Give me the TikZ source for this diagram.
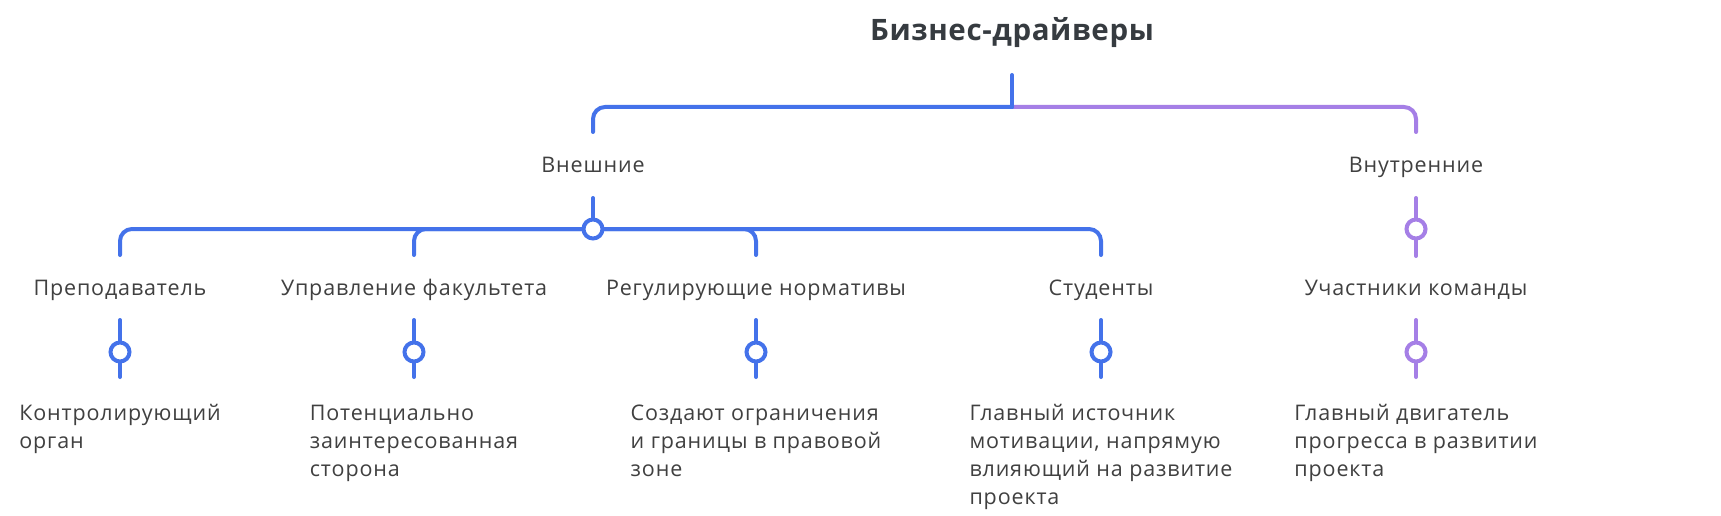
\documentclass[tikz,border=0pt]{standalone}
\usepackage{fontspec}
\setmainfont{Open Sans}[LetterSpace=4]
\newfontfamily\titlefont{Open Sans}[LetterSpace=2]
\definecolor{bl}{HTML}{4472EA}
\definecolor{pu}{HTML}{A57FE6}
\definecolor{tx}{HTML}{404040}
\definecolor{tt}{HTML}{363B40}
\begin{document}
\begin{tikzpicture}[x=1pt,y=-1pt,
  conn/.style={line width=4pt, line cap=round, rounded corners=12pt},
  dot/.style={circle, draw, line width=4pt, fill=white, minimum size=19pt, inner sep=0pt},
  lbl/.style={font=\fontsize{21.5}{28}\selectfont, text=tx, inner sep=0pt, anchor=base},
  leaf/.style={font=\fontsize{21.5}{28}\selectfont, text=tx, inner sep=0pt, anchor=north, align=left},
  ttl/.style={font=\titlefont\fontsize{29.5}{34}\selectfont\bfseries, text=tt, inner sep=0pt, anchor=base}]
\useasboundingbox[fill=white] (0,0) rectangle (1721,516);

% title
\node[ttl] (title) at (1012,41) {Бизнес-драйверы};
\coordinate (rootTop) at (1012,75);
\coordinate (rootJ) at (1012,107);
\coordinate (extIn) at (593,132);
\coordinate (intIn) at (1416,132);
\draw[conn,pu] (rootJ) -| (intIn);
\draw[conn,bl] (rootJ) -| (extIn);
\draw[conn,bl] (rootTop) -- (rootJ);

% level 1
\node[lbl] (ext) at (593,172) {Внешние};
\node[lbl] (int) at (1416,172) {Внутренние};

\coordinate (extOut) at (593,198);
\coordinate (extHub) at (593,229);
\coordinate (intOut) at (1416,198);
\coordinate (intHub) at (1416,229);
\coordinate (intEnd) at (1416,256);

\coordinate (aIn) at (120,255);
\coordinate (bIn) at (414,255);
\coordinate (cIn) at (756,255);
\coordinate (dIn) at (1101,255);

\draw[conn,bl] (extOut) -- (extHub);
\draw[conn,bl] (extHub) -| (dIn);
\draw[conn,bl] (extHub) -| (cIn);
\draw[conn,bl] (extHub) -| (aIn);
\draw[conn,bl] (extHub) -| (bIn);
\draw[conn,pu] (intOut) -- (intEnd);
\node[dot,draw=bl] (extDot) at (extHub) {};
\node[dot,draw=pu] (intDot) at (intHub) {};

% level 2 labels
\node[lbl] (a) at (120,295) {Преподаватель};
\node[lbl] (b) at (414,295) {Управление факультета};
\node[lbl] (c) at (756,295) {Регулирующие нормативы};
\node[lbl] (d) at (1101,295) {Студенты};
\node[lbl] (e) at (1416,295) {Участники команды};

% level 2 stems
\foreach \n/\x/\c in {a/120/bl, b/414/bl, c/756/bl, d/1101/bl, e/1416/pu}{
  \coordinate (\n Top) at (\x,320);
  \coordinate (\n Bot) at (\x,377);
  \draw[conn,\c] (\n Top) -- (\n Bot);
  \node[dot,draw=\c] (\n Dot) at (\x,352) {};
}

% leaves
\node[leaf] (aL) at (120,400.4) {\strut Контролирующий\\орган};
\node[leaf] (bL) at (414,400.4) {\strut Потенциально\\заинтересованная\\сторона};
\node[leaf] (cL) at (756,400.4) {\strut Создают ограничения\\и границы в правовой\\зоне};
\node[leaf] (dL) at (1101,400.4) {\strut Главный источник\\мотивации, напрямую\\влияющий на развитие\\проекта};
\node[leaf] (eL) at (1416,400.4) {\strut Главный двигатель\\прогресса в развитии\\проекта};
\end{tikzpicture}
\end{document}
